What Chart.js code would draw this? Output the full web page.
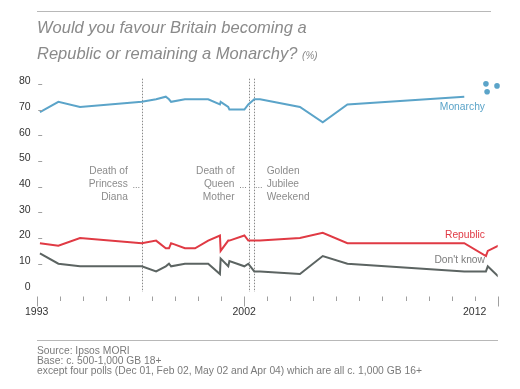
<!DOCTYPE html>
<html>
<head>
<meta charset="utf-8">
<script src="https://cdn.jsdelivr.net/npm/chart.js@4.4.0/dist/chart.umd.min.js"></script>
<style>
  body { margin: 0; background: #fff; font-family: "Liberation Sans", Arial, sans-serif; }
  #wrap { position: relative; width: 520px; height: 389px; overflow: hidden; }
  #chart { position: absolute; left: 0; top: 0; }
  .rule { position: absolute; height: 0; border-top: 1.5px solid #b8b8b8; }
  #title { position: absolute; left: 37px; top: 14px; font-style: italic; font-size: 16.5px;
           line-height: 26px; color: #8a8a8a; white-space: nowrap; }
  #title small { font-size: 10px; }
  #source { position: absolute; left: 37px; top: 345.7px; font-size: 10.3px; line-height: 10px;
            color: #7a7a7a; white-space: nowrap; }
</style>
</head>
<body>
<div id="wrap">
  <canvas id="chart" width="520" height="389"></canvas>
  <div class="rule" style="left:37px; top:11px; width:454px;"></div>
  <div id="title">Would you favour Britain becoming a<br>Republic or remaining a Monarchy? <small>(%)</small></div>
  <div class="rule" style="left:37px; top:340px; width:461px;"></div>
  <div id="source">Source: Ipsos MORI<br>Base: c. 500-1,000 GB 18+<br>except four polls (Dec 01, Feb 02, May 02 and Apr 04) which are all c. 1,000 GB 16+</div>
</div>
<script>
// poll dates as decimal years
const pollDates = [1993.14, 1993.94, 1994.88, 1997.56, 1998.18, 1998.6, 1998.74, 1998.83, 1999.43, 1999.87,
  2000.44, 2000.95, 2000.98, 2001.31, 2001.36, 2002.01, 2002.18, 2002.44, 2002.69, 2004.42,
  2005.41, 2006.48, 2011.55, 2012.49, 2012.57, 2013.03];
const monarchy = [69, 73, 71, 73, 74, 75, 74, 73, 74, 74, 74, 72, 73, 71, 70, 70, 72, 74, 74, 71, 65, 72, 75, null, null, null];
const republic = [18, 17, 20, 18, 19, 16, 16, 18, 16, 16, 19, 21, 15, 19, 19, 21, 19, 19, 19, 20, 22, 18, 18, 13, 15, 17];
const dontKnow = [14, 10, 9, 9, 7, 9, 10, 9, 10, 10, 10, 6, 12, 9, 11, 9, 10, 7, 7, 6, 13, 10, 7, 7, 9, 5];

const labelYears = [1993, 2002, 2012];
const majorYears = [1993, 2002, 2013];

const eventDates = [1997.56, 2002.19, 2002.44];
const eventLabels = [["Death of", "Princess", "Diana"], ["Death of", "Queen", "Mother"], ["Golden", "Jubilee", "Weekend"]];
const eventSide = ["left", "left", "right"];

const seriesNames = ["Monarchy", "Republic", "Don't know"];
const seriesLabelY = [71.1, 21.2, 11.2];

// the three blue dots in the corner
const dotX = [2012.49, 2012.54, 2012.97];
const dotY = [80, 76.9, 79.2];

const blue = "#5ba4c9";
const red = "#e03a44";
const grey = "#5c6462";
const seriesColors = [blue, red, "#7d7d7d"];

const toPoints = (vals) => pollDates.map((d, i) => ({ x: d, y: vals[i] }));

Chart.defaults.font.family = '"Liberation Sans", Arial, sans-serif';

const decor = {
  id: "decor",
  beforeDatasetsDraw(chart) {
    const { ctx, chartArea, scales: { x } } = chart;
    ctx.save();
    ctx.strokeStyle = "#8a8a8a";
    ctx.lineWidth = 1;
    ctx.setLineDash([1.5, 1.5]);
    eventDates.forEach((d) => {
      const px = Math.round(x.getPixelForValue(d)) + 0.5;
      ctx.beginPath();
      ctx.moveTo(px, chartArea.top);
      ctx.lineTo(px, chartArea.bottom);
      ctx.stroke();
    });
    ctx.restore();
  },
  afterDatasetsDraw(chart) {
    const { ctx, chartArea, scales: { x, y } } = chart;
    ctx.save();

    // x ticks
    ctx.strokeStyle = "#a0a0a0";
    ctx.lineWidth = 1;
    x.ticks.forEach((t) => {
      const px = Math.round(x.getPixelForValue(t.value)) + 0.5;
      const len = majorYears.includes(t.value) ? 10 : 4.5;
      ctx.beginPath();
      ctx.moveTo(px, chartArea.bottom + 4.5);
      ctx.lineTo(px, chartArea.bottom + 4.5 + len);
      ctx.stroke();
    });

    // y tick dashes
    y.ticks.forEach((t) => {
      if (t.value <= 0) return;
      const py = Math.round(y.getPixelForValue(t.value)) + 0.5;
      ctx.beginPath();
      ctx.moveTo(chartArea.left + 1.5, py);
      ctx.lineTo(chartArea.left + 5.5, py);
      ctx.stroke();
    });

    // event notes
    ctx.font = '10.2px "Liberation Sans", Arial, sans-serif';
    ctx.fillStyle = "#8c8c8c";
    ctx.textBaseline = "middle";
    const midY = y.getPixelForValue(41);
    eventDates.forEach((d, i) => {
      const px = x.getPixelForValue(d);
      const left = eventSide[i] === "left";
      ctx.textAlign = left ? "right" : "left";
      const tx = left ? px - 14 : px + 12.4;
      eventLabels[i].forEach((line, k) => {
        ctx.fillText(line, tx, midY + (k - 1) * 13);
      });
      ctx.save();
      ctx.strokeStyle = "#8a8a8a";
      ctx.setLineDash([1, 1.5]);
      ctx.beginPath();
      const ly = Math.round(midY + 3.3) + 0.5;
      ctx.moveTo(left ? px - 8.5 : px + 1.5, ly);
      ctx.lineTo(left ? px - 1 : px + 8.5, ly);
      ctx.stroke();
      ctx.restore();
    });

    // series labels
    ctx.font = '10.3px "Liberation Sans", Arial, sans-serif';
    ctx.textAlign = "right";
    seriesNames.forEach((name, i) => {
      ctx.fillStyle = seriesColors[i];
      ctx.fillText(name, x.getPixelForValue(2012.45), y.getPixelForValue(seriesLabelY[i]));
    });
    ctx.restore();
  }
};

new Chart(document.getElementById("chart"), {
  type: "line",
  data: {
    datasets: [
      { label: "Monarchy", data: toPoints(monarchy), borderColor: blue },
      { label: "Republic", data: toPoints(republic), borderColor: red },
      { label: "Don't know", data: toPoints(dontKnow), borderColor: grey },
      {
        label: "dots",
        type: "scatter",
        data: dotX.map((d, i) => ({ x: d, y: dotY[i] })),
        backgroundColor: blue,
        borderWidth: 0,
        pointRadius: 2.8,
        showLine: false,
        clip: false
      }
    ]
  },
  options: {
    responsive: false,
    animation: false,
    devicePixelRatio: 1,
    layout: { padding: { left: 0, top: 78.7, right: 22.3, bottom: 67 } },
    elements: {
      line: { borderWidth: 2, tension: 0, borderJoinStyle: "miter" },
      point: { radius: 0, hoverRadius: 0 }
    },
    plugins: { legend: { display: false }, tooltip: { enabled: false } },
    scales: {
      x: {
        type: "linear",
        min: 1993,
        max: 2013,
        afterFit: (s) => { s.height = 30; },
        grid: { drawOnChartArea: false, drawTicks: false },
        border: { display: false },
        ticks: {
          stepSize: 1,
          autoSkip: false,
          maxRotation: 0,
          includeBounds: false,
          padding: 14,
          color: "#333",
          font: { size: 10.5 },
          callback: (v) => (labelYears.includes(v) ? String(v) : "")
        }
      },
      y: {
        min: -1,
        max: 82,
        afterFit: (s) => { s.width = 36.7; },
        grid: { drawOnChartArea: false, drawTicks: false },
        border: { display: false },
        ticks: {
          stepSize: 10,
          includeBounds: false,
          padding: 6,
          labelOffset: -2.5,
          color: "#333",
          font: { size: 10.5 }
        }
      }
    }
  },
  plugins: [decor]
});
</script>
</body>
</html>
